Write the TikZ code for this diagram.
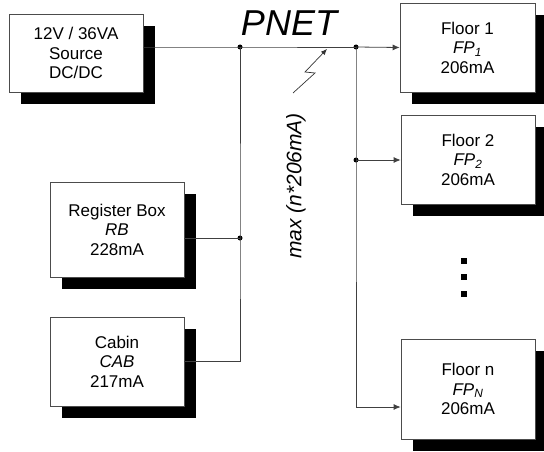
\documentclass[tikz,border=0pt]{standalone}
\usepackage{fontspec}
\setmainfont{Liberation Sans}
\usetikzlibrary{arrows.meta,shadows}
\begin{document}
\begin{tikzpicture}[x=1pt,y=-1pt,
  wire/.style={draw=black!75,line width=0.8pt},
  arr/.style={wire,-{Latex[length=7pt,width=6pt]}},
  blk/.style={draw=black!70,line width=0.7pt,fill=white,align=center,
    font=\fontsize{17}{19.5}\selectfont,inner sep=0pt,
    drop shadow={shadow xshift=12pt,shadow yshift=-12pt,fill=black,opacity=1}},
  dot/.style={circle,fill=black,inner sep=0pt,minimum size=5pt},
  sq/.style={fill=black,inner sep=0pt,minimum size=6pt},
  lbl/.style={font=\fontsize{21}{22}\selectfont\itshape}]
\useasboundingbox (0,0) rectangle (544,452);
% boxes
\node[blk,minimum width=134pt,minimum height=78pt] (src) at (76,53) {12V / 36VA\\Source\\DC/DC};
\node[blk,minimum width=134pt,minimum height=95pt] (rb) at (117,229.5) {Register Box\\\textit{RB}\\228mA};
\node[blk,minimum width=134pt,minimum height=89pt] (cab) at (117,361.5) {Cabin\\\textit{CAB}\\217mA};
\node[blk,minimum width=135pt,minimum height=89pt] (f1) at (467.5,47.5) {Floor 1\\\textit{FP\textsubscript{1}}\\206mA};
\node[blk,minimum width=134pt,minimum height=89pt] (f2) at (468,159.5) {Floor 2\\\textit{FP\textsubscript{2}}\\206mA};
\node[blk,minimum width=134pt,minimum height=100pt] (fn) at (468,389) {Floor n\\\textit{FP\textsubscript{N}}\\206mA};
% junctions
\node[dot] (j1) at (240,47) {};
\node[dot] (j2) at (356,47) {};
\node[dot] (j3) at (240,238) {};
\node[dot] (j4) at (356,160) {};
\coordinate (c1) at (240,361);
\coordinate (c2) at (356,407);
% wires
\draw[wire] (j1 -| src.east) -- (j1.center) -- (j2.center);
\draw[arr] (j2.center) -- (f1.west);
\draw[wire] (j1.center) -- (j3.center) -- (c1) -- (c1 -| cab.east);
\draw[wire] (j3 -| rb.east) -- (j3.center);
\draw[wire] (j2.center) -- (j4.center) -- (c2);
\draw[arr] (j4.center) -- (j4 -| f2.west);
\draw[arr] (c2) -- (c2 -| fn.west);
% lightning
\coordinate (l1) at (293,93);
\coordinate (l2) at (315,73);
\coordinate (l3) at (305,72);
\coordinate (l4) at (327,49);
\draw[black!80,line width=0.7pt,-{Latex[length=6pt,width=5pt]}] (l1) -- (l2) -- (l3) -- (l4);
% dots
\node[sq] (d1) at (464,261) {};
\node[sq] (d2) at (464,277) {};
\node[sq] (d3) at (464,294) {};
% labels
\node[font=\fontsize{36}{38}\selectfont\itshape] (pnet) at (289,23) {PNET};
\node[lbl,rotate=90] (max) at (296,186) {max (n*206mA)};
\end{tikzpicture}
\end{document}
